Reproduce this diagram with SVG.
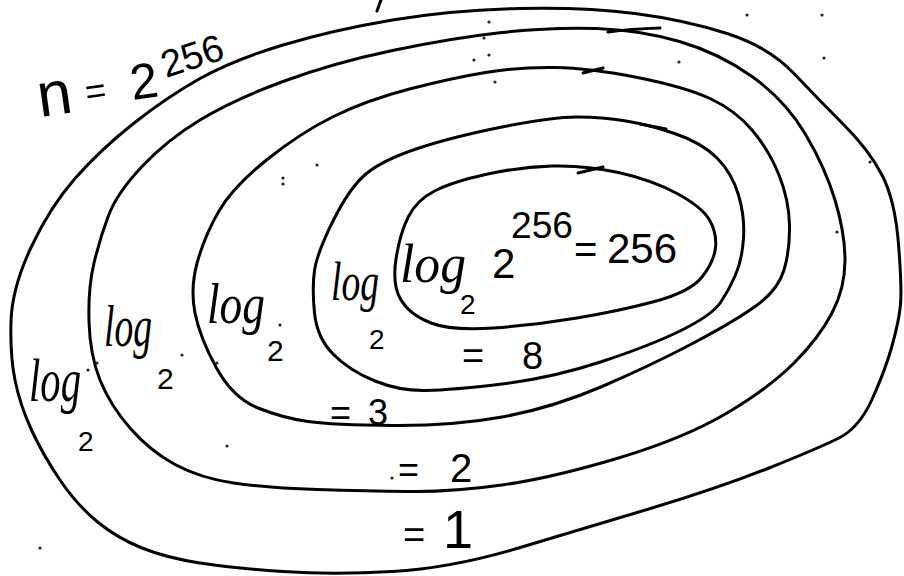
<svg xmlns="http://www.w3.org/2000/svg" width="904" height="576" viewBox="0 0 904 576">
<style>
.ring{fill:none;stroke:#000;stroke-width:3;stroke-linejoin:round;stroke-linecap:round}
.hook{fill:none;stroke:#000;stroke-width:3;stroke-linecap:round}
.log{font-family:"Liberation Serif","DejaVu Serif",serif;font-style:italic;fill:#000}
.num{font-family:"Liberation Sans","DejaVu Sans",sans-serif;fill:#000}
.dot{fill:#222}
</style>
<rect width="904" height="576" fill="#fff"/>
<g id="ring1">
<path class="ring" d="M 11,321.5 Q 12,288 31,247.5 Q 50,207 75,178.5 Q 100,150 133.5,123.5 Q 167,97 200,78.5 Q 233,60 283,45 Q 333,30 392.5,20 Q 452,10 518.5,8.5 Q 585,7 635,13.5 Q 685,20 727,33.5 Q 769,47 794,73.5 Q 819,100 844,125 Q 869,150 882,175 Q 895,200 898.5,244 Q 902,288 900.5,304.5 Q 899,321 892,346 Q 885,371 872,399.5 Q 859,428 839,438 Q 819,448 769,468 Q 719,488 652,508 Q 585,528 518.5,548 Q 452,568 392.5,571.5 Q 333,575 283,571.5 Q 233,568 200,563 Q 167,558 142,548 Q 117,538 97,521.5 Q 77,505 60,480 Q 43,455 31.5,430 Q 20,405 15,380 Q 10,355 11,321.5 Z"/>
<path class="hook" d="M 377,11 L 381,0"/>
</g>
<g id="ring2">
<path class="ring" d="M 89,321.5 Q 88,288 94,263 Q 100,238 108.5,215.5 Q 117,193 142,166.5 Q 167,140 200,120 Q 233,100 283,81.5 Q 333,63 392.5,50.5 Q 452,38 502,32.5 Q 552,27 596,28.5 Q 640,30 679.5,41.5 Q 719,53 752,76.5 Q 785,100 805,133.5 Q 825,167 835,200 Q 845,233 845,260.5 Q 845,288 832,313 Q 819,338 794,363 Q 769,388 727,413 Q 685,438 618.5,458 Q 552,478 502,485 Q 452,492 409.5,491.5 Q 367,491 317,489.5 Q 267,488 233.5,483 Q 200,478 175,464.5 Q 150,451 130,428 Q 110,405 100,380 Q 90,355 89,321.5 Z"/>
<path class="hook" d="M 608,32 Q 630,29 660,28"/>
</g>
<g id="ring3">
<path class="ring" d="M 195,313 Q 190,288 197.5,261.5 Q 205,235 219,211 Q 233,187 266.5,160 Q 300,133 333.5,116.5 Q 367,100 409.5,89 Q 452,78 485.5,72.5 Q 519,67 554.5,67.5 Q 590,68 637.5,77.5 Q 685,87 710,98.5 Q 735,110 752,130 Q 769,150 779,175 Q 789,200 789.5,225 Q 790,250 784,270 Q 778,290 756.5,305.5 Q 735,321 693.5,343 Q 652,365 602,386.5 Q 552,408 502,417 Q 452,426 392.5,425.5 Q 333,425 308,421.5 Q 283,418 258,408 Q 233,398 216.5,368 Q 200,338 195,313 Z"/>
<path class="hook" d="M 583,73 L 603,68"/>
</g>
<g id="ring4">
<path class="ring" d="M 314.5,313 Q 312,288 314.5,270.5 Q 317,253 333.5,220 Q 350,187 366.5,173.5 Q 383,160 417.5,148.5 Q 452,137 502,127 Q 552,117 577,117 Q 602,117 626,121 Q 650,125 676,134 Q 702,143 717,158 Q 732,173 738.5,195 Q 745,217 743.5,238.5 Q 742,260 735.5,275 Q 729,290 720.5,302.5 Q 712,315 682,330 Q 652,345 602,361.5 Q 552,378 502,384 Q 452,390 426,390.5 Q 400,391 375,381 Q 350,371 333.5,354.5 Q 317,338 314.5,313 Z"/>
<path class="hook" d="M 640,124 L 666,129"/>
</g>
<g id="ring5">
<path class="ring" d="M 401,300 Q 392,285 396,259 Q 400,233 408.5,216.5 Q 417,200 434.5,191 Q 452,182 485.5,174.5 Q 519,167 552,166 Q 585,165 618.5,172.5 Q 652,180 677,193.5 Q 702,207 709.5,220 Q 717,233 715.5,247.5 Q 714,262 702,277 Q 690,292 654.5,301.5 Q 619,311 577,318 Q 535,325 493.5,328 Q 452,331 431,323 Q 410,315 401,300 Z"/>
<path class="hook" d="M 578,173 L 603,167"/>
</g>
<g id="labels">
<text class="num" x="40" y="117" font-size="62" transform="rotate(-8 40 117)">n<tspan font-size="36" x="88" dy="-6">=</tspan><tspan font-size="50" x="134" dy="2">2</tspan></text>
<text class="num" x="166" y="78" font-size="38" transform="rotate(-18 166 78)">256</text>

<text class="log" x="400" y="282" font-size="54" textLength="66" lengthAdjust="spacingAndGlyphs">log</text>
<text class="num" x="460" y="314" font-size="28">2</text>
<text class="num" x="492" y="278" font-size="42">2</text>
<text class="num" x="511" y="238" font-size="36" textLength="62" lengthAdjust="spacingAndGlyphs">256</text>
<text class="num" x="574" y="263" font-size="40">=<tspan x="607" font-size="42">256</tspan></text>

<text class="log" x="331" y="300" font-size="54" textLength="48" lengthAdjust="spacingAndGlyphs">log</text>
<text class="num" x="369" y="349" font-size="28">2</text>

<text class="log" x="207" y="323" font-size="56" textLength="58" lengthAdjust="spacingAndGlyphs">log</text>
<text class="num" x="267" y="361" font-size="30">2</text>

<text class="log" x="104" y="346" font-size="60" textLength="48" lengthAdjust="spacingAndGlyphs">log</text>
<text class="num" x="157" y="389" font-size="30">2</text>

<text class="log" x="29" y="401" font-size="62" textLength="52" lengthAdjust="spacingAndGlyphs">log</text>
<text class="num" x="78" y="451" font-size="28">2</text>

<text class="num" x="462" y="369" font-size="38">=<tspan x="522">8</tspan></text>
<text class="num" x="330" y="425" font-size="36">=<tspan x="368">3</tspan></text>
<text class="num" x="398" y="482" font-size="36">=<tspan x="450" font-size="40">2</tspan></text>
<text class="num" x="403" y="548" font-size="38">=<tspan x="443" font-size="54">1</tspan></text>
</g>
<g id="dots">
<circle class="dot" cx="88" cy="370" r="1.6"/>
<circle class="dot" cx="97" cy="363" r="1.6"/>
<circle class="dot" cx="182" cy="355" r="1.6"/>
<circle class="dot" cx="217" cy="363" r="1.6"/>
<circle class="dot" cx="280" cy="325" r="1.6"/>
<circle class="dot" cx="317" cy="165" r="1.6"/>
<circle class="dot" cx="283" cy="178" r="1.6"/>
<circle class="dot" cx="283" cy="184" r="1.6"/>
<circle class="dot" cx="227" cy="446" r="1.6"/>
<circle class="dot" cx="40" cy="548" r="1.6"/>
<circle class="dot" cx="489" cy="22" r="1.6"/>
<circle class="dot" cx="484" cy="38" r="1.6"/>
<circle class="dot" cx="474" cy="60" r="1.6"/>
<circle class="dot" cx="489" cy="55" r="1.6"/>
<circle class="dot" cx="495" cy="82" r="1.6"/>
<circle class="dot" cx="679" cy="62" r="1.6"/>
<circle class="dot" cx="747" cy="15" r="1.6"/>
<circle class="dot" cx="822" cy="15" r="1.6"/>
<circle class="dot" cx="824" cy="58" r="1.6"/>
<circle class="dot" cx="870" cy="162" r="1.6"/>
<circle class="dot" cx="837" cy="232" r="1.6"/>
<circle class="dot" cx="392" cy="478" r="1.6"/>
</g>
</svg>
